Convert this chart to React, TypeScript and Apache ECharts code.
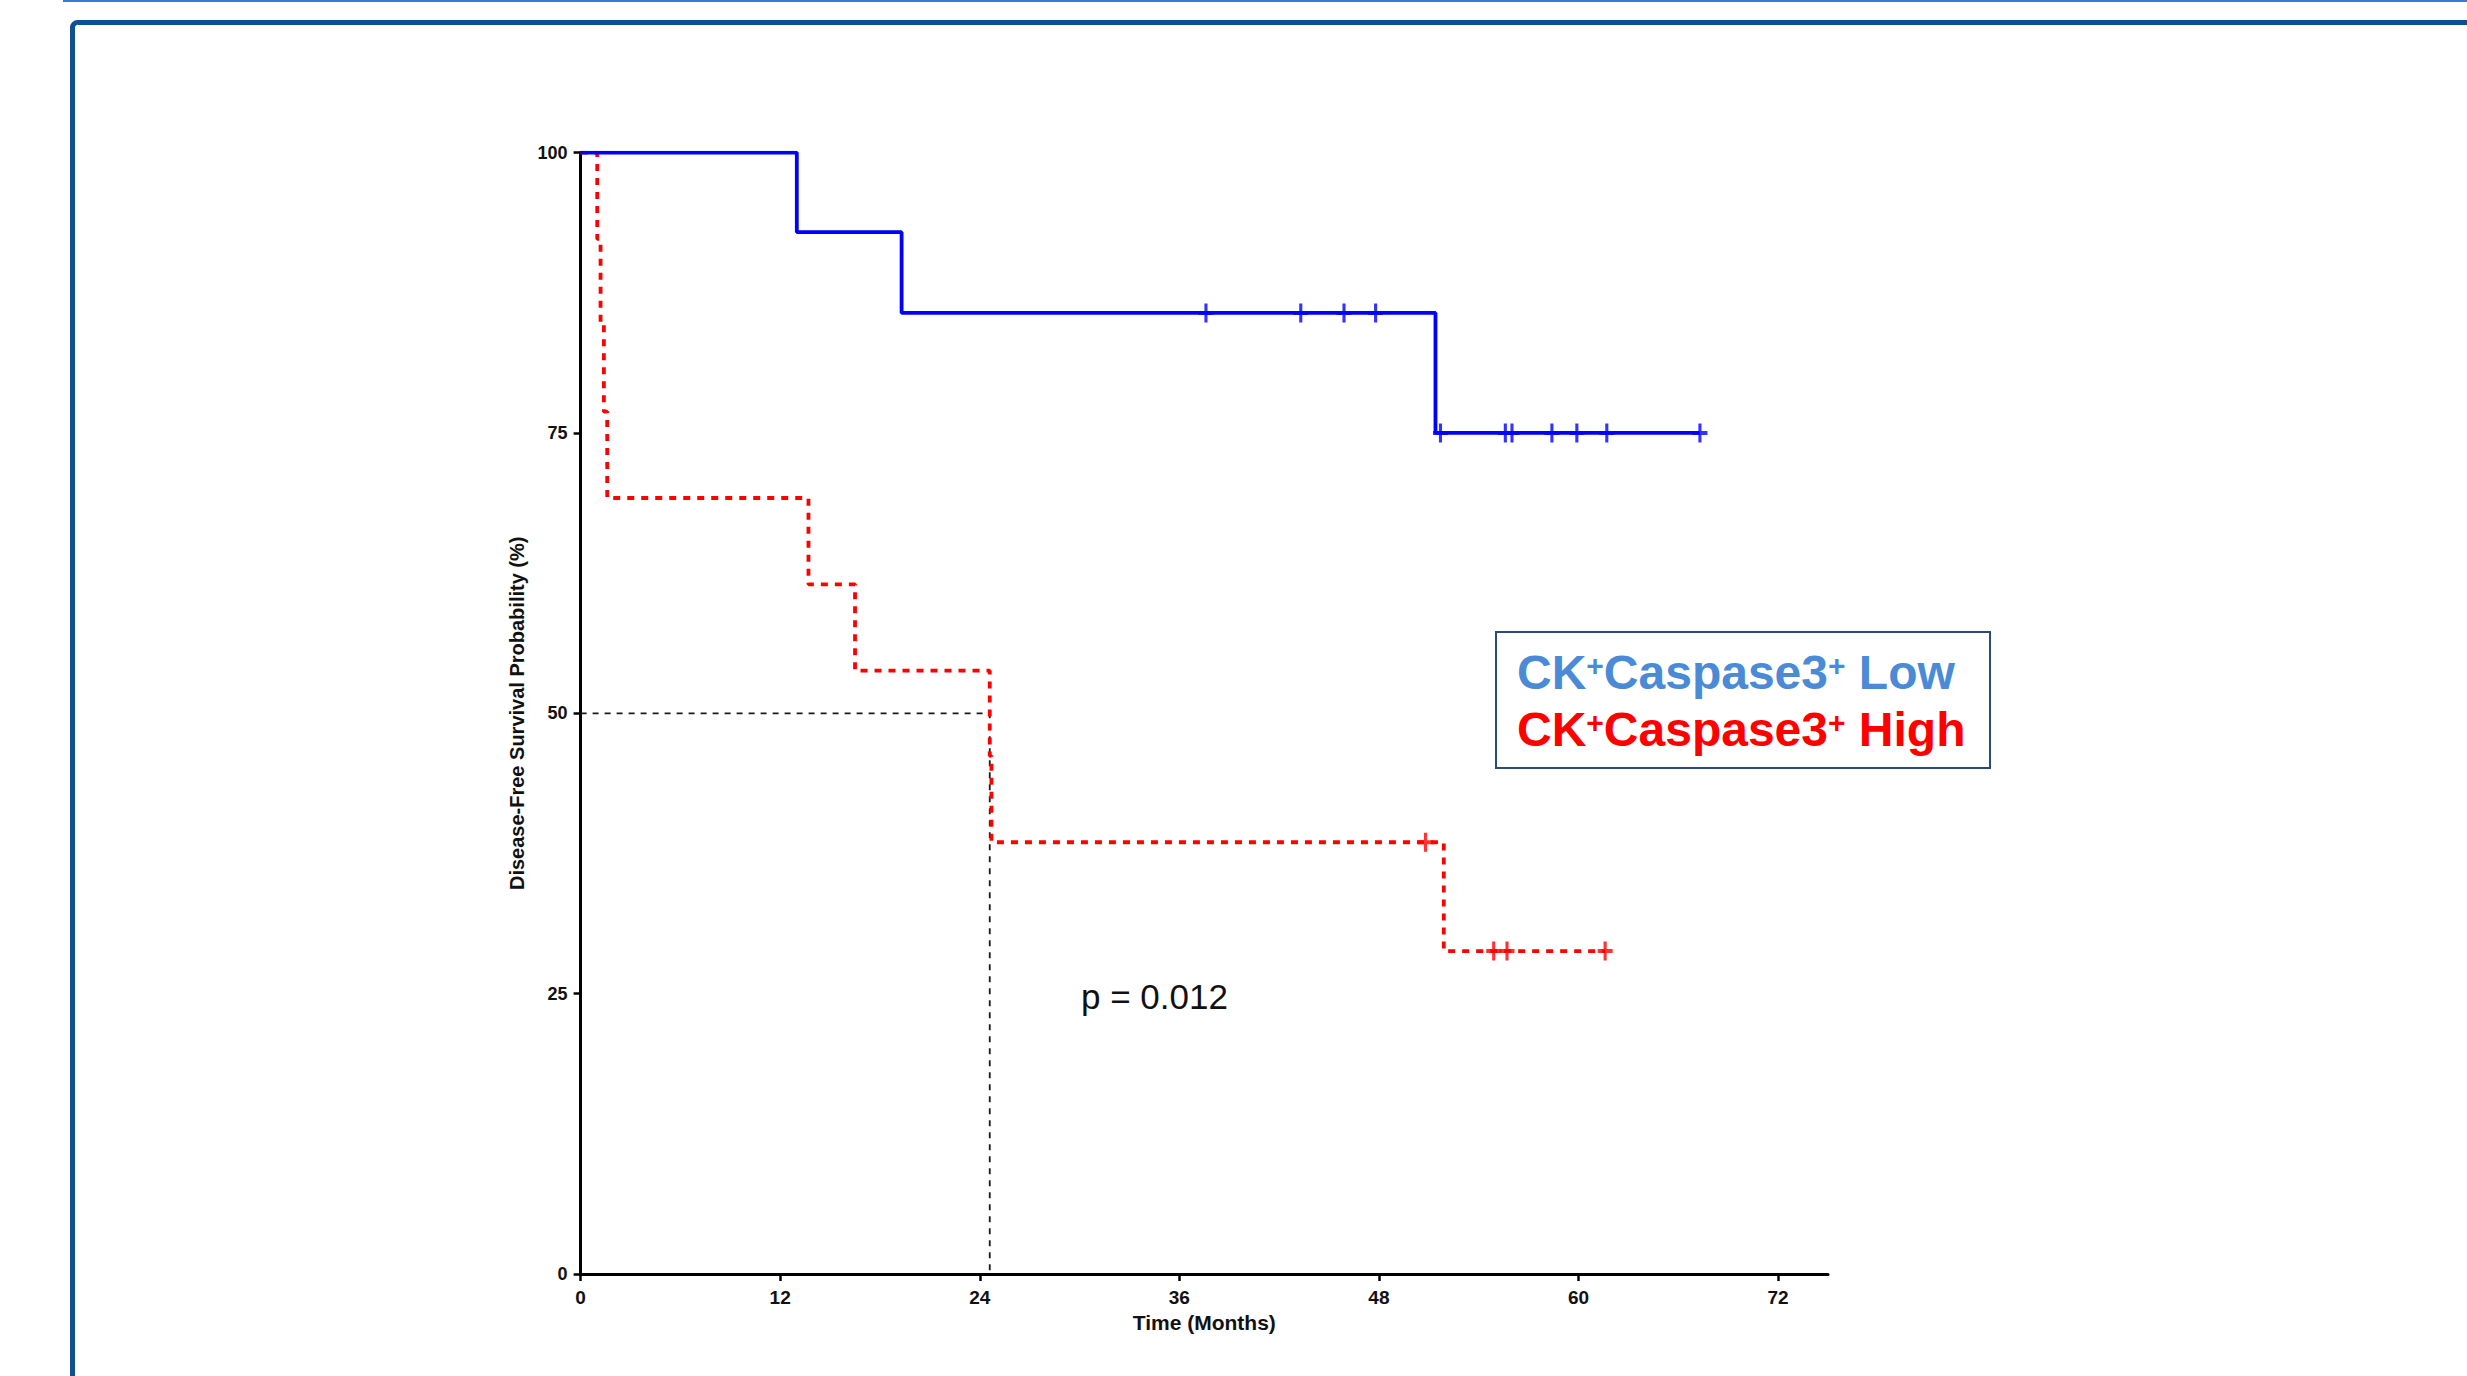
import React, { useEffect, useRef } from "react";
import * as echarts from "echarts";

// Axis ticks
const xTicks = [0, 12, 24, 36, 48, 60, 72];
const yTicks = [0, 25, 50, 75, 100];

// CK+Caspase3+ Low (solid blue)
const lowEventTimes = [13.0, 19.3, 51.4];
const lowSurvival = [92.9, 85.7, 75.0];
const lowCensorTimes = [37.6, 43.3, 45.9, 47.8, 51.7, 55.6, 56.0, 58.4, 59.9, 61.7, 67.3];
const lowEnd = 67.3;

// CK+Caspase3+ High (dashed red)
const highEventTimes = [1.0, 1.2, 1.4, 1.6, 13.7, 16.5, 24.6, 24.7, 51.9];
const highSurvival = [92.3, 84.6, 76.9, 69.2, 61.5, 53.8, 46.2, 38.5, 28.8];
const highCensorTimes = [50.8, 54.9, 55.7, 61.6];
const highEnd = 61.6;

// Median survival of High group (dashed reference)
const medianHigh = 24.6;
const medianLevel = 50;

const legendLabels = ["Low", "High"];
const pText = "p = 0.012";

const FONT = "'Liberation Sans', Arial, Helvetica, sans-serif";

function stepPoints(times: number[], surv: number[], end: number) {
  const pts: number[][] = [[0, 100]];
  let s = 100;
  times.forEach((t, i) => {
    pts.push([t, s]);
    s = surv[i];
    pts.push([t, s]);
  });
  pts.push([end, s]);
  return pts;
}

function survivalAt(times: number[], surv: number[], t: number) {
  let s = 100;
  times.forEach((et, i) => {
    if (et <= t) s = surv[i];
  });
  return s;
}

const PLUS = "path://M7,0L7,18M0,9L14,9";

export default function App() {
  const ref = useRef<HTMLDivElement>(null);

  useEffect(() => {
    if (!ref.current) return;
    const chart = echarts.init(ref.current, undefined, { renderer: "svg" });

    const lowLine = stepPoints(lowEventTimes, lowSurvival, lowEnd);
    const highLine = stepPoints(highEventTimes, highSurvival, highEnd);
    const lowCens = lowCensorTimes.map((t) => [t, survivalAt(lowEventTimes, lowSurvival, t)]);
    const highCens = highCensorTimes.map((t) => [t, survivalAt(highEventTimes, highSurvival, t)]);

    const legendRich = (color: string) => ({
      a: { fontSize: 48, fontWeight: "bold", fontFamily: FONT, fill: color, color, lineHeight: 60 },
      s: {
        fontSize: 30,
        fontWeight: "bold",
        fontFamily: FONT,
        fill: color,
        color,
        lineHeight: 34,
        verticalAlign: "top",
        padding: [8, 0, 0, 0],
      },
    });

    const option: any = {
      animation: false,
      backgroundColor: "#ffffff",
      grid: { left: 580.6, right: 639, top: 152.6, bottom: 102, containLabel: false },
      xAxis: {
        type: "value",
        min: 0,
        max: 75,
        interval: 12,
        name: "Time (Months)",
        nameLocation: "middle",
        nameGap: 38,
        nameTextStyle: { fontSize: 21, fontWeight: "bold", fontFamily: FONT, color: "#111" },
        axisLine: { show: true, onZero: false, lineStyle: { color: "#000", width: 3 } },
        axisTick: { show: true, length: 7, lineStyle: { color: "#000", width: 2.5 }, customValues: xTicks },
        axisLabel: {
          fontSize: 19,
          fontWeight: "bold",
          fontFamily: FONT,
          color: "#111",
          margin: 14,
          customValues: xTicks,
          formatter: (v: number) => (xTicks.includes(v) ? String(v) : ""),
        },
        splitLine: { show: false },
      },
      yAxis: {
        type: "value",
        min: 0,
        max: 100,
        interval: 25,
        name: "Disease-Free Survival Probability (%)",
        nameLocation: "middle",
        nameGap: 48,
        nameTextStyle: { fontSize: 20, fontWeight: "bold", fontFamily: FONT, color: "#111" },
        axisLine: { show: true, onZero: false, lineStyle: { color: "#000", width: 3 } },
        axisTick: { show: true, length: 7, lineStyle: { color: "#000", width: 2.5 }, customValues: yTicks },
        axisLabel: {
          fontSize: 18,
          fontWeight: "bold",
          fontFamily: FONT,
          color: "#111",
          margin: 13,
          customValues: yTicks,
        },
        splitLine: { show: false },
      },
      series: [
        {
          type: "line",
          name: "median",
          data: [
            [0, medianLevel],
            [medianHigh, medianLevel],
            [medianHigh, 0],
          ],
          symbol: "none",
          lineStyle: { color: "#1a1a1a", width: 1.8, type: [6, 6] },
          z: 1,
          silent: true,
        },
        {
          type: "line",
          name: "CK+Caspase3+ High",
          data: highLine,
          symbol: "none",
          lineStyle: { color: "#ff0000", width: 3.8, type: [7, 7] },
          z: 2,
        },
        {
          type: "line",
          name: "CK+Caspase3+ Low",
          data: lowLine,
          symbol: "none",
          lineStyle: { color: "#0000ff", width: 3.8 },
          z: 3,
        },
        {
          type: "scatter",
          name: "Low censored",
          data: lowCens,
          symbol: PLUS,
          symbolSize: [15, 19],
          itemStyle: { color: "rgba(0,0,0,0)", borderColor: "#0000ff", borderWidth: 3.5 },
          z: 4,
        },
        {
          type: "scatter",
          name: "High censored",
          data: highCens,
          symbol: PLUS,
          symbolSize: [15, 19],
          itemStyle: { color: "rgba(0,0,0,0)", borderColor: "#ff0000", borderWidth: 3.5 },
          z: 4,
        },
      ],
      graphic: [
        {
          type: "line",
          shape: { x1: 63, y1: 1, x2: 2467, y2: 1 },
          style: { stroke: "#2f80d4", lineWidth: 2 },
          silent: true,
        },
        {
          type: "rect",
          shape: { x: 72.5, y: 22.5, width: 2700, height: 1700, r: 5 },
          style: { fill: "none", stroke: "#0f4f94", lineWidth: 5 },
          silent: true,
          z: -10,
        },
        {
          type: "rect",
          shape: { x: 1496, y: 632, width: 494, height: 136 },
          style: { fill: "#ffffff", stroke: "#2b4a7c", lineWidth: 2 },
          z: 10,
        },
        {
          type: "text",
          x: 1517,
          y: 672,
          z: 11,
          style: {
            text: "{a|CK}{s|+}{a|Caspase3}{s|+}{a| " + legendLabels[0] + "}",
            rich: legendRich("#4a8ad6"),
            fill: "#4a8ad6",
            verticalAlign: "middle",
            textVerticalAlign: "middle",
          },
        },
        {
          type: "text",
          x: 1517,
          y: 729,
          z: 11,
          style: {
            text: "{a|CK}{s|+}{a|Caspase3}{s|+}{a| " + legendLabels[1] + "}",
            rich: legendRich("#ff0000"),
            fill: "#ff0000",
            verticalAlign: "middle",
            textVerticalAlign: "middle",
          },
        },
        {
          type: "text",
          x: 1081,
          y: 996,
          z: 11,
          style: {
            text: pText,
            font: "35px " + FONT,
            fill: "#111",
            verticalAlign: "middle",
            textVerticalAlign: "middle",
          },
        },
      ],
    };

    chart.setOption(option);
    return () => chart.dispose();
  }, []);

  return (
    <div
      ref={ref}
      style={{ position: "absolute", left: 0, top: 0, width: 2467, height: 1376 }}
    />
  );
}
